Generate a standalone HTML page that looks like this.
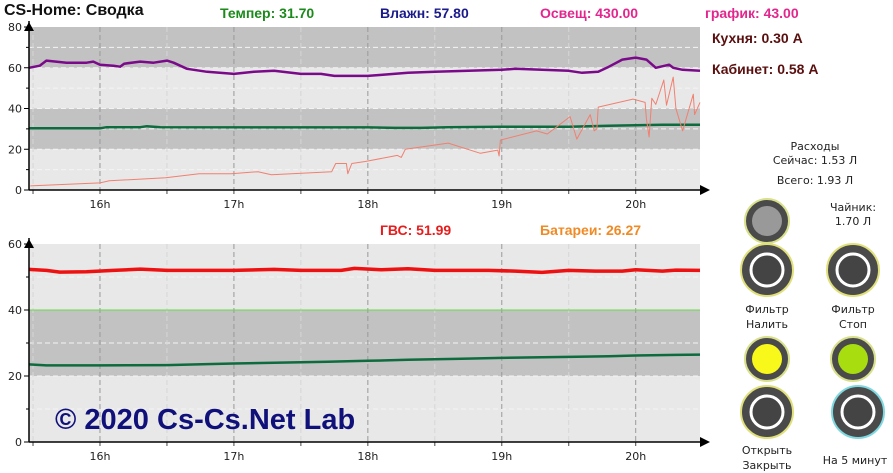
<!DOCTYPE html>
<html><head><meta charset="utf-8">
<style>
body{margin:0;background:#fff;width:893px;height:472px;overflow:hidden;font-family:"Liberation Sans","DejaVu Sans",sans-serif;}
.t{position:absolute;white-space:nowrap;font-weight:bold;}
.s{position:absolute;white-space:nowrap;font-size:11px;color:#222;text-align:center;font-family:"DejaVu Sans",sans-serif;}
</style></head><body>
<svg id="c" width="893" height="472" style="position:absolute;left:0;top:0"></svg>
<div class="t" style="left:4px;top:2px;font-size:16px;color:#111">CS-Home: Сводка</div>
<div class="t" style="left:220px;top:5px;font-size:14px;color:#1b8a1b">Темпер: 31.70</div>
<div class="t" style="left:380px;top:5px;font-size:14px;color:#1a1a8a">Влажн: 57.80</div>
<div class="t" style="left:540px;top:5px;font-size:14px;color:#e3258e">Освещ: 430.00</div>
<div class="t" style="left:705px;top:5px;font-size:14px;color:#e3258e">график: 43.00</div>
<div class="t" style="left:712px;top:30px;font-size:14px;color:#5a0f0f">Кухня: 0.30 A</div>
<div class="t" style="left:712px;top:61px;font-size:14px;color:#5a0f0f">Кабинет: 0.58 A</div>
<div class="t" style="left:380px;top:222px;font-size:14px;color:#e81c1c">ГВС: 51.99</div>
<div class="t" style="left:540px;top:222px;font-size:14px;color:#f08a24">Батареи: 26.27</div>
<div class="t" style="left:55px;top:404px;font-size:29px;color:#10107a">© 2020 Cs-Cs.Net Lab</div>
<div class="s" style="left:760px;top:140px;width:110px">Расходы</div>
<div class="s" style="left:760px;top:154px;width:110px">Сейчас: 1.53 Л</div>
<div class="s" style="left:760px;top:174px;width:110px">Всего: 1.93 Л</div>
<div class="s" style="left:820px;top:201px;width:66px;line-height:14px">Чайник:<br>1.70 Л</div>
<div class="s" style="left:727px;top:302px;width:80px;line-height:15px">Фильтр<br>Налить</div>
<div class="s" style="left:813px;top:302px;width:80px;line-height:15px">Фильтр<br>Стоп</div>
<div class="s" style="left:727px;top:443px;width:80px;line-height:15px">Открыть<br>Закрыть</div>
<div class="s" style="left:805px;top:454px;width:100px">На 5 минут</div>
<script>
// top chart data (hours, values)
const humT=[15.47,15.55,15.6,15.75,15.9,15.95,16.0,16.1,16.15,16.18,16.3,16.4,16.5,16.55,16.65,16.8,17.0,17.15,17.3,17.5,17.65,17.75,18.0,18.1,18.3,18.5,18.75,19.0,19.1,19.3,19.5,19.6,19.72,19.8,19.9,20.0,20.08,20.15,20.25,20.28,20.35,20.48];
const humV=[60,61,63.5,62.5,62.5,63,61.5,61,60.5,62,63,62.5,63.5,62.5,59.5,58,57,58,58.5,57,57,56,56,56.5,57.5,58,58.5,59,59.5,59,58.5,57.5,58,60.5,64,65,64,60,61.5,60,59,58.5];
const tmpT=[15.47,16.0,16.05,16.3,16.35,16.45,17.5,18.0,18.2,18.4,18.6,19.0,19.5,19.8,20.0,20.2,20.48];
const tmpV=[30.3,30.3,30.8,30.8,31.3,30.8,30.7,30.7,30.5,30.5,30.8,31,31,31.5,31.8,32,32];
const lgtT=[15.48,16.0,16.07,16.49,16.74,16.98,17.18,17.28,17.73,17.76,17.84,17.85,17.88,17.98,18.22,18.25,18.28,18.6,18.84,18.97,18.98,18.99,19.26,19.34,19.51,19.56,19.66,19.69,19.71,19.72,19.98,20.07,20.08,20.1,20.12,20.15,20.21,20.23,20.28,20.3,20.35,20.43,20.44,20.48];
const lgtV=[2,3.5,4.5,6,8,8,9,7.5,9,13,13,8,13,14,17,16,20,23,18,19.6,16.7,24.5,29,27.5,36,25,37,29,30,40.7,44.6,43,35,26,45,42,54,41.6,55.4,40,29,47,37,43];
// bottom chart data
const gvsT=[15.47,15.6,15.7,15.9,16.1,16.3,16.5,17.0,17.3,17.5,17.8,17.9,18.1,18.3,18.5,18.9,19.1,19.3,19.5,19.7,19.9,20.0,20.2,20.3,20.48];
const gvsV=[52.3,52,51.5,51.6,52,52.4,52,52,52.3,52,52,52.6,52.2,52.5,52,52,51.8,51.4,52,51.8,51.8,52.2,51.8,52.1,52];
const batT=[15.47,15.6,16.0,16.5,16.8,17.0,17.3,17.7,18.0,18.3,18.7,19.0,19.5,19.8,20.0,20.3,20.48];
const batV=[23.5,23.2,23.2,23.3,23.6,23.8,24,24.3,24.6,24.9,25.2,25.5,25.8,26,26.2,26.4,26.5];
const hourTicks=[16,17,18,19,20];
const topTicks=[0,20,40,60,80];
const botTicks=[0,20,40,60];

const NS='http://www.w3.org/2000/svg';
const svg=document.getElementById('c');
function el(tag,a,parent){const e=document.createElementNS(NS,tag);for(const k in a)e.setAttribute(k,a[k]);(parent||svg).appendChild(e);return e;}
const X0=29,X1=700,T0=15.47,T1=20.48;
const xs=t=>X0+(t-T0)/(T1-T0)*(X1-X0);
function chart(name,yTop,yBot,vmax,bands,ticks,series,threshold){
  const ys=v=>yBot-(v/vmax)*(yBot-yTop);
  const g=el('g',{});
  
  
  for(let v=0;v<vmax;v+=20){const dark=bands.includes(v);
    el('rect',{x:X0,y:ys(v+20),width:X1-X0,height:ys(v)-ys(v+20),fill:dark?'#c2c2c2':'#e8e8e8'},g);}
  for(let v=10;v<vmax;v+=10) el('line',{x1:X0,x2:X1,y1:ys(v),y2:ys(v),stroke:'#f4f4f4','stroke-dasharray':'5,3','stroke-width':1},g);
  for(let h=15.5;h<T1;h+=0.5){const hr=Math.abs(h-Math.round(h))<0.01;
    el('line',{x1:xs(h),x2:xs(h),y1:yTop,y2:yBot,stroke:hr?'#999':'#d6d6d6','stroke-dasharray':'5,3'},g);
    el('line',{x1:xs(h),x2:xs(h),y1:yBot,y2:yBot+4,stroke:'#444'},g);}
  if(threshold!==undefined) el('line',{x1:X0,x2:X1,y1:ys(threshold),y2:ys(threshold),stroke:'#66dd44','stroke-width':1},g);
  series.forEach(s=>{
    const d=s.t.map((t,i)=>(i?'L':'M')+xs(t).toFixed(1)+','+ys(s.v[i]).toFixed(1)).join('');
    const p=el('path',{d:d,fill:'none',stroke:s.c,'stroke-width':s.w,'stroke-linejoin':'round'},g);
    
    
  });
  el('line',{x1:X0,x2:X0,y1:yTop-6,y2:yBot,stroke:'#000','stroke-width':1.5},g);
  el('polygon',{points:`${X0-5},${yTop+4} ${X0+5},${yTop+4} ${X0},${yTop-5}`,fill:'#000'},g);
  el('line',{x1:X0,x2:X1+4,y1:yBot,y2:yBot,stroke:'#000','stroke-width':1.5},g);
  el('polygon',{points:`${X1},${yBot-5} ${X1},${yBot+5} ${X1+10},${yBot}`,fill:'#000'},g);
  ticks.forEach(v=>{el('line',{x1:X0-5,x2:X0,y1:ys(v),y2:ys(v),stroke:'#000'},g);
    const t=el('text',{x:X0-7,y:ys(v)+4,'text-anchor':'end','font-size':11,fill:'#222','font-family':'DejaVu Sans,sans-serif'},g);t.textContent=v;});
  for(let v=10;v<vmax;v+=20) el('line',{x1:X0-3,x2:X0,y1:ys(v),y2:ys(v),stroke:'#000'},g);
  hourTicks.forEach(h=>{const t=el('text',{x:xs(h),y:yBot+18,'text-anchor':'middle','font-size':11,fill:'#222','font-family':'DejaVu Sans,sans-serif'},g);t.textContent=h+'h';});
}
chart('top-chart',27,190,80,[20,60],topTicks,[
  {t:tmpT,v:tmpV,c:'#0d6b3d',w:2.5,n:'temperature-line'},
  {t:lgtT,v:lgtV,c:'#f08070',w:1,n:'light-line'},
  {t:humT,v:humV,c:'#7a0a8a',w:2.5,n:'humidity-line'}]);
chart('bottom-chart',244,442,60,[20],botTicks,[
  {t:batT,v:batV,c:'#0d6b3d',w:2.5,n:'heating-line'},
  {t:gvsT,v:gvsV,c:'#ee1111',w:3.5,n:'hot-water-line'}],40);
// buttons
function btn(name,cx,cy,r,fill,ring,inter){
  const g=el('g',{});
  
  
  el('circle',{cx:cx,cy:cy,r:r,fill:'#4a4a4a',stroke:ring,'stroke-width':2},g);
  if(fill) el('circle',{cx:cx,cy:cy,r:r-7,fill:fill},g);
  else el('circle',{cx:cx,cy:cy,r:r-10,fill:'#444',stroke:'#fff','stroke-width':3},g);
}
btn('status-led-gray',767,221,22,'#999','#d8e08a',false);
btn('filter-fill-button',767,270,26,null,'#e0e07a',true);
btn('filter-stop-button',853,270,26,null,'#e0e07a',true);
btn('status-led-yellow',767,359,22,'#f8f81a','#d8e08a',false);
btn('status-led-green',853,359,22,'#a8dd10','#d8e08a',false);
btn('open-close-button',767,412,26,null,'#e0e07a',true);
btn('five-min-button',858,412,26,null,'#7ed8e0',true);
</script>
</body></html>
